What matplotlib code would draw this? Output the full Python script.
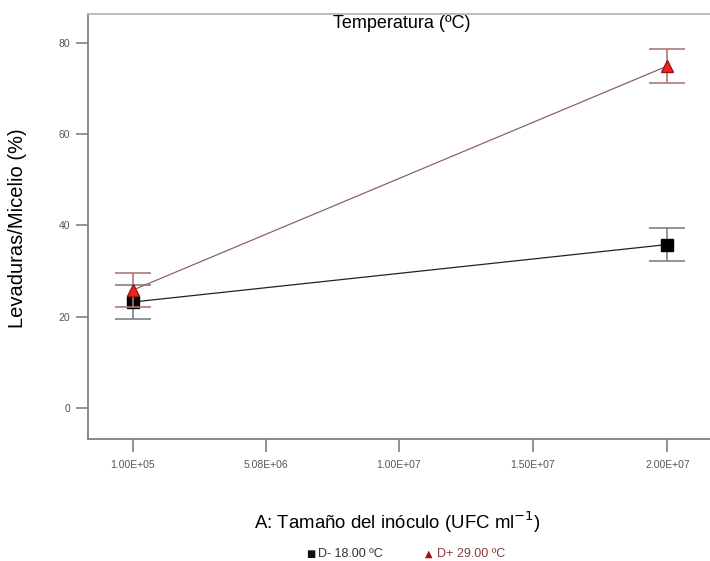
import matplotlib.pyplot as plt

inoculo = [1.0e5, 2.0e7]
d_menos = [23.2, 35.8]
d_mas = [25.8, 74.9]
err_menos = [3.7, 3.7]
err_mas = [3.7, 3.7]

xticks = [1.0e5, 5.075e6, 1.0e7, 1.5e7, 2.0e7]
xlabels = ["1.00E+05", "5.08E+06", "1.00E+07", "1.50E+07", "2.00E+07"]
yticks = [0, 20, 40, 60, 80]

fig = plt.figure(figsize=(7.1, 5.61), dpi=100)
ax = fig.add_axes([88/710, 1 - 439/561, 1 - 88/710, (439 - 14)/561])

red_line = "#8c6464"
ax.errorbar(inoculo, d_menos, yerr=err_menos, color="#222222", lw=0.9,
            marker="s", ms=9, mfc="black", mec="black",
            ecolor="#808080", elinewidth=1.2, capsize=13, capthick=1.2, zorder=3)
ax.errorbar(inoculo, d_mas, yerr=err_mas, color=red_line, lw=0.9,
            marker="^", ms=9, mfc="#e8281c", mec="#a01010",
            ecolor="#b07878", elinewidth=1.2, capsize=13, capthick=1.2, zorder=4)

ax.set_xlim(-1.56e6, 2.159e7)
ax.set_ylim(-6.8, 86.3)
ax.set_xticks(xticks)
ax.set_xticklabels(xlabels)
ax.set_yticks(yticks)
ax.tick_params(axis="both", colors="#808080", labelcolor="#555555", labelsize=7.5,
               length=9, width=1.2)
ax.tick_params(axis="y", pad=4)
ax.tick_params(axis="x", pad=6)
for lbl in ax.get_xticklabels() + ax.get_yticklabels():
    lbl.set_family("Liberation Sans")

for s in ["left", "bottom"]:
    ax.spines[s].set_color("#808080")
    ax.spines[s].set_linewidth(1.3)
ax.spines["top"].set_color("#b0b0b0")
ax.spines["top"].set_linewidth(1.2)
ax.spines["right"].set_visible(False)

fig.text(402/710, 1 - 23/561, "Temperatura (ºC)", ha="center",
         va="center", fontsize=13, family="Liberation Sans")
fig.text(18/710, 1 - 228/561, "Levaduras/Micelio (%)", rotation=90, ha="center",
         va="center", fontsize=14.5, family="Liberation Sans")
fig.text(397/710, 1 - 522/561, "A: Tamaño del inóculo (UFC ml$^{-1}$)", ha="center",
         va="center", fontsize=13.4, family="Liberation Sans")
fig.text(306/710, 1 - 554/561, "■", ha="left", va="center",
         fontsize=7, color="#111111", family="DejaVu Sans")
fig.text(318/710, 1 - 554/561, "D- 18.00 ºC", ha="left", va="center",
         fontsize=9, color="#333333", family="Liberation Sans")
fig.text(425/710, 1 - 554/561, "▲", ha="left", va="center",
         fontsize=7, color="#a01010", family="DejaVu Sans")
fig.text(437/710, 1 - 554/561, "D+ 29.00 ºC", ha="left", va="center",
         fontsize=9, color="#8b3a3a", family="Liberation Sans")

fig.savefig("out.png", dpi=100)
